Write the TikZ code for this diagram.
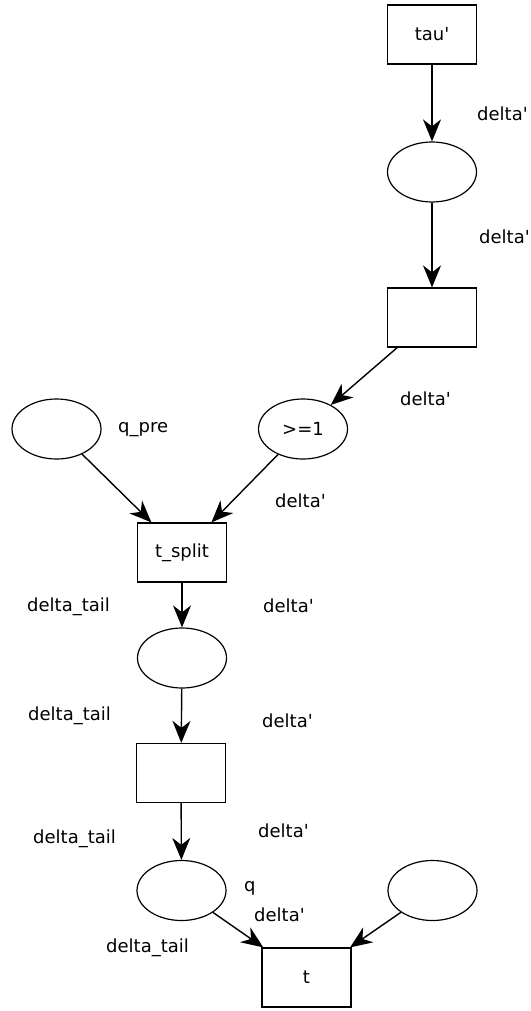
\documentclass[tikz,border=0pt]{standalone}
\usepackage{fontspec}
\setmainfont{DejaVu Sans}[Ligatures=TeXOff]
\usetikzlibrary{arrows.meta,shapes}

\begin{document}
\begin{tikzpicture}[x=1pt,y=-1pt,>={Stealth[length=22pt,width=18pt,inset=7pt]},
        every node/.style={font=\fontsize{18}{22}\selectfont},
        place/.style={draw,line width=1.2pt,ellipse,minimum width=89pt,minimum height=60pt,inner sep=0pt},
        trans/.style={draw,line width=1.2pt,rectangle,minimum width=89pt,minimum height=59pt,inner sep=0pt},
        lbl/.style={anchor=base west,inner sep=0pt},
        arc/.style={->,line width=1.4pt}]
            \useasboundingbox (0,0) rectangle (530,1011);
            \node [trans] (tau) at (432,34.5) {tau'};
            \node [place] (p1) at (432,172) {};
            \node [trans] (tr1) at (432,317.5) {};
            \node [place] (qpre) at (56.5,429) {};
            \node [place] (geq) at (303,429) {>=1};
            \node [trans] (tsplit) at (182,552.5) {t\_split};
            \node [place] (p2) at (182,658) {};
            \node [trans] (tr2) at (181,773) {};
            \node [place] (q) at (181.5,890.5) {};
            \node [place] (pr) at (432.5,890.5) {};
            \node [trans] (t) at (306.5,977.5) {t};
            \draw [arc] (tau) -- (p1);
            \draw [arc] (p1) -- (tr1);
            \draw [arc] (tr1) -- (geq);
            \draw [arc] (qpre) -- (tsplit);
            \draw [arc] (geq) -- (tsplit);
            \draw [arc] (tsplit) -- (p2);
            \draw [arc] (p2) -- (tr2);
            \draw [arc] (tr2) -- (q);
            \draw [arc] (q) -- (t);
            \draw [arc] (pr) -- (t);
            \node [lbl] (l1) at (477,121) {delta'};
            \node [lbl] (l2) at (479,243) {delta'};
            \node [lbl] (l3) at (400,405) {delta'};
            \node [lbl] (l4) at (118,432) {q\_pre};
            \node [lbl] (l5) at (275,507) {delta'};
            \node [lbl] (l6) at (27,611) {delta\_tail};
            \node [lbl] (l7) at (263,612) {delta'};
            \node [lbl] (l8) at (28,720) {delta\_tail};
            \node [lbl] (l9) at (262,727) {delta'};
            \node [lbl] (l10) at (33,843) {delta\_tail};
            \node [lbl] (l11) at (258,837) {delta'};
            \node [lbl] (l12) at (244,891) {q};
            \node [lbl] (l13) at (254,921) {delta'};
            \node [lbl] (l14) at (106,952) {delta\_tail};
        \end{tikzpicture}
\end{document}
